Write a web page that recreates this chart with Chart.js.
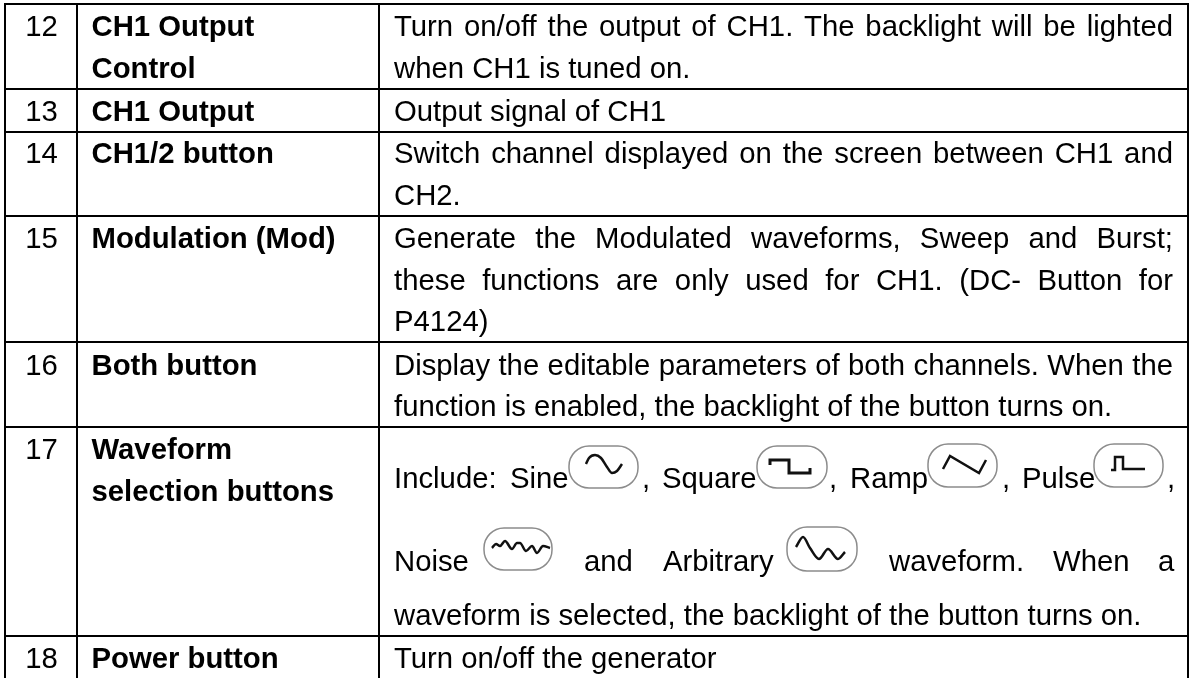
<!DOCTYPE html>
<html>
<head>
<meta charset="utf-8">
<title>Front panel table</title>
<script src="https://cdn.jsdelivr.net/npm/chart.js@4/dist/chart.umd.min.js"></script>
<style>
  html, body { margin: 0; padding: 0; background: #fff; }
  #wrap { width: 1190px; height: 678px; }
</style>
</head>
<body>
<div id="wrap"><canvas id="myChart" width="1190" height="678"></canvas></div>
<script>
// table rules, in the units of the two axes
const columnEdges = [5, 77, 379, 1188];
const rowEdges = [4, 89, 132, 216, 342, 427, 636];

const rowNumbers = ['12', '13', '14', '15', '16', '17', '18'];
const rowNumberLines = [36, 120.5, 163, 248, 375, 459, 668];

const rowNames = ['CH1 Output', 'Control', 'CH1 Output', 'CH1/2 button', 'Modulation (Mod)', 'Both button', 'Waveform', 'selection buttons', 'Power button'];
const rowNameLines = [36, 78, 120.5, 163, 248, 375, 459, 501, 668];

const descriptions = [
  'Turn on/off the output of CH1. The backlight will be lighted',
  'when CH1 is tuned on.',
  'Output signal of CH1',
  'Switch channel displayed on the screen between CH1 and',
  'CH2.',
  'Generate the Modulated waveforms, Sweep and Burst;',
  'these functions are only used for CH1. (DC- Button for',
  'P4124)',
  'Display the editable parameters of both channels. When the',
  'function is enabled, the backlight of the button turns on.',
  'waveform is selected, the backlight of the button turns on.',
  'Turn on/off the generator'
];
const descriptionLines = [36, 78, 120.5, 163, 205, 248, 290, 331, 375, 416, 625, 668];
const justifiedLines = [0, 3, 5, 6, 8];

// words that sit between the button pictures
const inlineWords = ['Include:', 'Sine', ',', 'Square', ',', 'Ramp', ',', 'Pulse', ',', 'Noise', 'and', 'Arbitrary', 'waveform.', 'When', 'a'];
const inlineWordX = [394, 510, 642, 662, 829, 850, 1002, 1022, 1167, 394, 584, 663, 889, 1053, 1158];
const inlineWordLines = [488, 488, 488, 488, 488, 488, 488, 488, 488, 571, 571, 571, 571, 571, 571];

// button outlines: left, right, top, bottom
const buttonLeft = [569, 757, 928, 1094, 484, 787];
const buttonRight = [638, 827, 997, 1163, 552, 857];
const buttonTop = [446, 446, 444, 444, 528, 527];
const buttonBottom = [488, 488, 487, 487, 570, 571];

// waveform glyphs
const sineWave = [[586,464],[589,458],[595,455],[601,458],[607,467],[612,473],[617,471],[622,464]];
const squareWave = [[770,465],[770,460],[789,460],[789,473],[810,473],[810,468]];
const rampWave = [[943,469],[950,456],[979,473],[986,460]];
const pulseWave = [[1111,470],[1115,470],[1115,457],[1123,457],[1123,469],[1145,469]];
const noiseWave = [[492,548],[496,544],[500,546],[505,541],[512,549],[517,543],[520,543],[526,551],[532,546],[537,553],[543,546],[550,548]];
const arbitraryWave = [[796,547],[803,537],[810,548],[819,559],[828,549],[838,559],[845,552]];

const toPoints = arr => arr.map(p => ({ x: p[0], y: p[1] }));
const waveDataset = (points, smooth, width) => ({
  type: 'line',
  data: toPoints(points),
  borderColor: '#111',
  borderWidth: width,
  pointRadius: 0,
  cubicInterpolationMode: smooth ? 'monotone' : 'default',
  tension: 0,
  fill: false,
  clip: false,
});

const textFont = '"Liberation Sans", Arial, sans-serif';
const textSize = 29.3;

// draws the cell text and the button outlines through the chart scales
const tablePlugin = {
  id: 'tablePlugin',
  afterDatasetsDraw(chart) {
    const c = chart.ctx;
    const sx = chart.scales.x;
    const sy = chart.scales.y;
    const leftX = sx.getPixelForValue(394);
    const rightX = sx.getPixelForValue(1173);

    c.save();
    c.fillStyle = '#000';
    c.textBaseline = 'alphabetic';

    c.font = textSize + 'px ' + textFont;
    c.textAlign = 'center';
    rowNumbers.forEach((t, i) => c.fillText(t, sx.getPixelForValue(41.5), sy.getPixelForValue(rowNumberLines[i])));

    c.textAlign = 'left';
    c.font = 'bold ' + textSize + 'px ' + textFont;
    rowNames.forEach((t, i) => c.fillText(t, sx.getPixelForValue(91.5), sy.getPixelForValue(rowNameLines[i])));

    c.font = textSize + 'px ' + textFont;
    descriptions.forEach((t, i) => {
      const y = sy.getPixelForValue(descriptionLines[i]);
      if (!justifiedLines.includes(i)) {
        c.fillText(t, leftX, y);
        return;
      }
      const words = t.split(' ');
      const used = words.reduce((sum, w) => sum + c.measureText(w).width, 0);
      const gap = (rightX - leftX - used) / (words.length - 1);
      let x = leftX;
      words.forEach(w => {
        c.fillText(w, x, y);
        x += c.measureText(w).width + gap;
      });
    });
    inlineWords.forEach((t, i) => c.fillText(t, sx.getPixelForValue(inlineWordX[i]), sy.getPixelForValue(inlineWordLines[i])));

    c.strokeStyle = '#8c8c8c';
    c.lineWidth = 1.5;
    buttonLeft.forEach((l, i) => {
      const x0 = sx.getPixelForValue(l);
      const x1 = sx.getPixelForValue(buttonRight[i]);
      const y0 = sy.getPixelForValue(buttonTop[i]);
      const y1 = sy.getPixelForValue(buttonBottom[i]);
      c.beginPath();
      c.roundRect(x0, y0, x1 - x0, y1 - y0, 20);
      c.stroke();
    });
    c.restore();
  },
};

const ctx = document.getElementById('myChart').getContext('2d');
const config = {
  type: 'scatter',
  data: {
    datasets: [
      waveDataset(sineWave, true, 2.5),
      waveDataset(squareWave, false, 3),
      waveDataset(rampWave, false, 2.5),
      waveDataset(pulseWave, false, 2.5),
      waveDataset(noiseWave, true, 2.5),
      waveDataset(arbitraryWave, true, 2.5),
    ],
  },
  options: {
    responsive: false,
    animation: false,
    // chart area is the table box, so the rules stop at its border
    layout: { padding: { left: 4, right: 1, top: 3, bottom: 0 } },
    plugins: {
      legend: { display: false },
      title: { display: false },
      tooltip: { enabled: false },
    },
    scales: {
      x: {
        type: 'linear',
        min: 4,
        max: 1189,
        afterBuildTicks: axis => { axis.ticks = columnEdges.map(v => ({ value: v })); },
        ticks: { display: false },
        border: { display: false },
        grid: { color: '#000', lineWidth: 2, drawTicks: false },
      },
      y: {
        type: 'linear',
        reverse: true,
        min: 3,
        max: 678,
        afterBuildTicks: axis => { axis.ticks = rowEdges.map(v => ({ value: v })); },
        ticks: { display: false },
        border: { display: false },
        grid: { color: '#000', lineWidth: 2, drawTicks: false },
      },
    },
  },
  plugins: [tablePlugin],
};

new Chart(ctx, config);
</script>
</body>
</html>
